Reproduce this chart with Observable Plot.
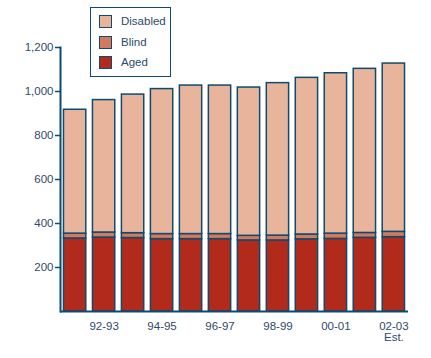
<!DOCTYPE html>
<html>
<head>
<meta charset="utf-8">
<script src="https://cdn.jsdelivr.net/npm/d3@7"></script>
<script src="https://cdn.jsdelivr.net/npm/@observablehq/plot@0.6"></script>
<style>
  html, body { margin: 0; padding: 0; background: #fff; }
  #wrap { position: relative; width: 431px; height: 358px; font-family: "Liberation Sans", Arial, sans-serif; }
  #legend { position: absolute; left: 90px; top: 7px; width: 79px; height: 68px; border: 1.5px solid #0E4B6E; background: #fff; box-sizing: content-box; }
  .item { position: absolute; left: 8px; height: 14px; font-size: 11.5px; color: #2E4A6A; line-height: 14px; }
  .sw { position: absolute; left: 0; top: 0; width: 11px; height: 11px; border: 1.5px solid #0E4B6E; }
  .lab { position: absolute; left: 22px; top: -1px; white-space: nowrap; }
</style>
</head>
<body>
<div id="wrap"></div>
<script>
const years = ["91-92","92-93","93-94","94-95","95-96","96-97","97-98","98-99","99-00","00-01","01-02","02-03"];
const aged = [332, 336, 334, 329, 329, 329, 323, 323, 328, 330, 335, 338];
const blind = [22, 23, 22, 23, 23, 23, 21, 22, 22, 24, 22, 24];
const disabled = [563, 602, 630, 659, 675, 675, 674, 693, 712, 729, 746, 765];
const series = ["Aged", "Blind", "Disabled"];
const colors = ["#B22A1C", "#D27A5F", "#E8B59C"];
const xTicks = ["92-93","94-95","96-97","98-99","00-01","02-03"];
const xTickLabels = {"02-03": "02-03\nEst."};
const yTicks = [200, 400, 600, 800, 1000, 1200];

const rows = [];
years.forEach((y, i) => {
  rows.push({year: y, series: "Aged", value: aged[i]});
  rows.push({year: y, series: "Blind", value: blind[i]});
  rows.push({year: y, series: "Disabled", value: disabled[i]});
});

const ink = "#0E4B6E";
const textColor = "#2E4A6A";

const chart = Plot.plot({
  width: 431,
  height: 358,
  marginLeft: 60,
  marginRight: 23,
  marginTop: 47,
  marginBottom: 47,
  style: {fontFamily: "'Liberation Sans', Arial, sans-serif", fontSize: "11px", color: textColor, background: "#fff"},
  x: {domain: years, paddingInner: 0.23, paddingOuter: 0.12, round: false, label: null},
  y: {domain: [0, 1200], label: null},
  color: {domain: series, range: colors},
  marks: [
    Plot.barY(rows, {x: "year", y: "value", fill: "series", stroke: ink, strokeWidth: 1.5, inset: 0}),
    Plot.frame({anchor: "left", stroke: ink, strokeWidth: 2}),
    Plot.axisY({ticks: yTicks, tickFormat: d3.format(","), tickSize: 5, tickPadding: 2, stroke: ink, strokeWidth: 1.5, color: textColor, fontSize: 11.5, label: null}),
    Plot.axisX({ticks: xTicks, tickFormat: d => xTickLabels[d] || d, tickSize: 0, tickPadding: 10, color: textColor, fontSize: 11.5, label: null}),
    Plot.ruleY([0], {stroke: ink, strokeWidth: 2})
  ]
});

const wrap = document.getElementById("wrap");
wrap.appendChild(chart);

const legend = document.createElement("div");
legend.id = "legend";
const order = ["Disabled", "Blind", "Aged"];
order.forEach((name, k) => {
  const it = document.createElement("div");
  it.className = "item";
  it.style.top = (7 + k * 20.5) + "px";
  const sw = document.createElement("div");
  sw.className = "sw";
  sw.style.background = colors[series.indexOf(name)];
  const lab = document.createElement("div");
  lab.className = "lab";
  lab.textContent = name;
  it.appendChild(sw);
  it.appendChild(lab);
  legend.appendChild(it);
});
wrap.appendChild(legend);
</script>
</body>
</html>
